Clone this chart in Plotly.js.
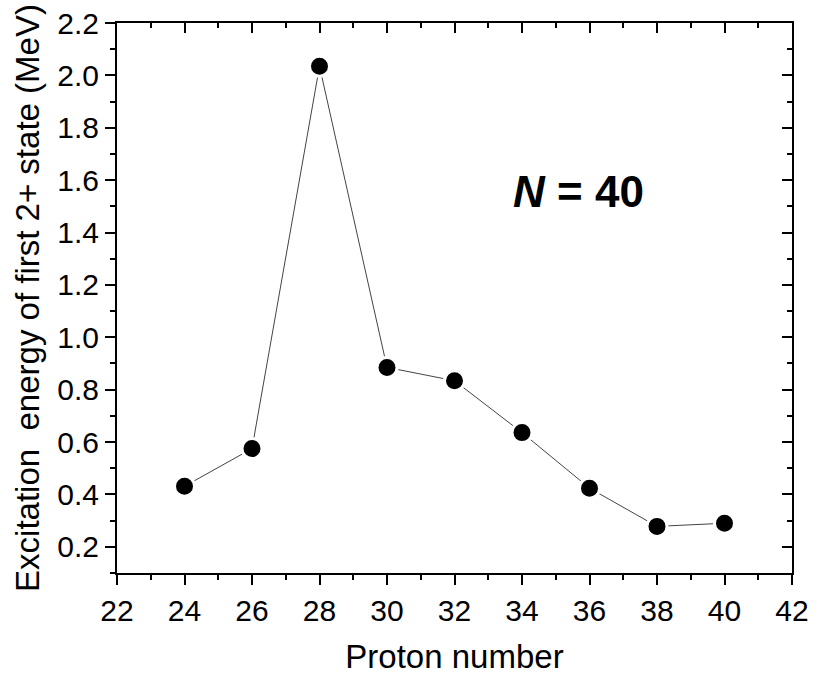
<!DOCTYPE html>
<html>
<head>
<meta charset="utf-8">
<script src="https://cdn.plot.ly/plotly-3.0.1.min.js"></script>
<style>html,body{margin:0;padding:0;background:#fff;}#chart{width:817px;height:675px;}</style>
</head>
<body>
<div id="chart"></div>
<script>
const protonNumber = [24, 26, 28, 30, 32, 34, 36, 38, 40];
const excitationEnergy = [0.431, 0.575, 2.035, 0.885, 0.834, 0.636, 0.424, 0.278, 0.290];
const xTitle = 'Proton number';
const yTitle = 'Excitation  energy of first 2+ state (MeV)';
const label = '<i>N</i> = 40';

const FONT = 'Arial, "Liberation Sans", sans-serif';

const trace = {
  x: protonNumber,
  y: excitationEnergy,
  type: 'scatter',
  mode: 'lines+markers',
  line: {color: '#444', width: 1},
  marker: {color: '#000', size: 20, line: {color: '#fff', width: 3}},
  showlegend: false,
  cliponaxis: false
};

const axCommon = {
  showgrid: false,
  zeroline: false,
  showline: true,
  linecolor: '#000',
  linewidth: 2,
  tickcolor: '#000',
  tickwidth: 2,
  ticklen: 10,
};

const layout = {
  width: 817,
  height: 675,
  margin: {l: 117, r: 25, t: 23, b: 102},
  paper_bgcolor: '#fff',
  plot_bgcolor: '#fff',
  font: {family: FONT, color: '#000'},
  xaxis: Object.assign({}, axCommon, {
    range: [22, 42],
    tick0: 22, dtick: 2,
    ticks: 'outside',
    tickfont: {size: 30, family: FONT},
    minor: {dtick: 1, ticks: 'outside', ticklen: 5, tickwidth: 2, tickcolor: '#000'},
    title: {text: xTitle, font: {size: 33, family: FONT}, standoff: 22}
  }),
  yaxis: Object.assign({}, axCommon, {
    range: [0.1, 2.2],
    tick0: 0.2, dtick: 0.2,
    ticks: 'outside',
    tickformat: '.1f',
    tickfont: {size: 30, family: FONT},
    minor: {dtick: 0.1, tick0: 0.1, ticks: 'outside', ticklen: 5, tickwidth: 2, tickcolor: '#000'},
    title: {text: yTitle, font: {size: 33, family: FONT}, standoff: 8}
  }),
  xaxis2: Object.assign({}, axCommon, {
    overlaying: 'x', side: 'top', matches: 'x',
    range: [22, 42], tick0: 22, dtick: 2,
    ticks: 'inside', showticklabels: false,
    minor: {dtick: 1, ticks: 'inside', ticklen: 5, tickwidth: 2, tickcolor: '#000'}
  }),
  yaxis2: Object.assign({}, axCommon, {
    overlaying: 'y', side: 'right',
    range: [0.1, 2.2], tick0: 0.2, dtick: 0.2,
    ticks: 'inside', showticklabels: false,
    minor: {dtick: 0.1, tick0: 0.1, ticks: 'inside', ticklen: 5, tickwidth: 2, tickcolor: '#000'}
  }),
  annotations: [{
    xref: 'paper', yref: 'paper',
    x: 0.683, y: 0.694,
    xanchor: 'center', yanchor: 'middle',
    text: '<b>' + label + '</b>',
    showarrow: false,
    font: {size: 44, family: FONT, color: '#000'}
  }]
};

const dummy = {x: [22], y: [0.1], xaxis: 'x2', yaxis: 'y2', mode: 'markers', marker: {opacity: 0}, showlegend: false, hoverinfo: 'skip'};

Plotly.newPlot('chart', [trace, dummy], layout, {staticPlot: true});
</script>
</body>
</html>
